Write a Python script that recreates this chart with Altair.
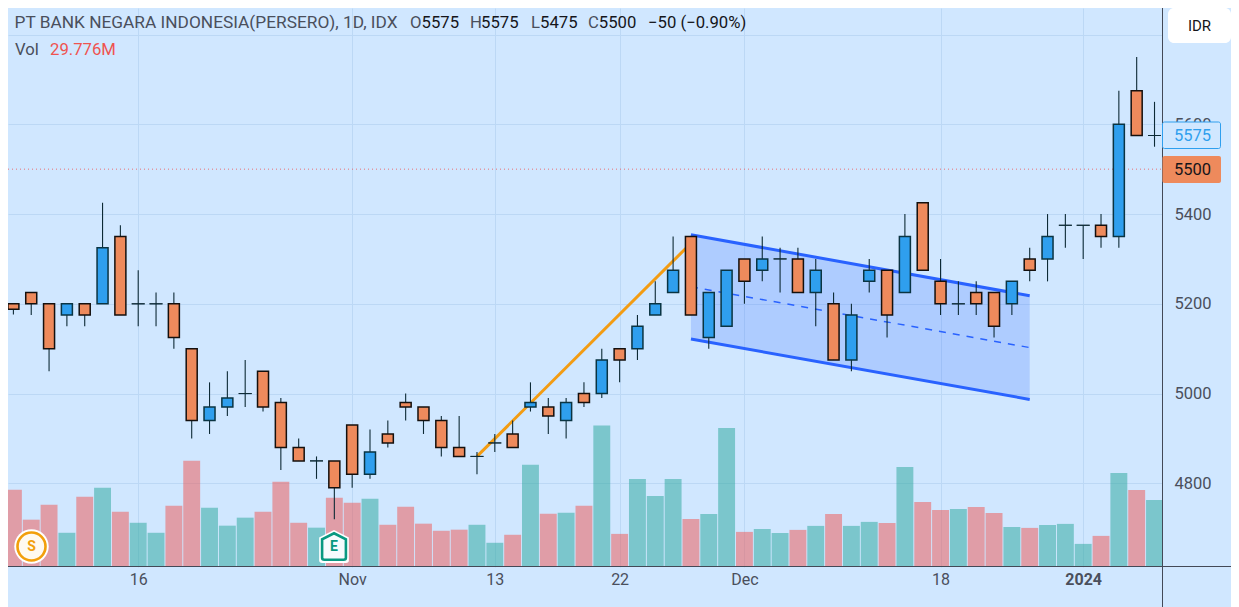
import altair as alt
import pandas as pd

# ---- values (IDR, one trading day per entry) ----
opens = [5200,5225,5200,5175,5200,5200,5350,5200,5200,5200,5100,4940,4970,5000,5050,4980,4880,4850,4850,4930,
         4820,4910,4980,4970,4940,4880,4860,4890,4910,4970,4970,4940,5000,5000,5100,5100,5175,5225,5350,5125,
         5150,5300,5275,5300,5300,5225,5200,5075,5250,5275,5225,5425,5250,5200,5225,5225,5200,5300,5300,5375,
         5375,5375,5350,5675,5575]
closes = [5188,5200,5100,5200,5175,5325,5175,5200,5200,5125,4940,4970,4990,5000,4970,4880,4850,4850,4790,4820,
          4870,4890,4970,4940,4880,4860,4860,4890,4880,4980,4950,4980,4980,5075,5075,5150,5200,5275,5175,5225,
          5275,5250,5300,5300,5225,5275,5075,5175,5275,5175,5350,5275,5200,5200,5200,5150,5250,5275,5350,5375,
          5375,5350,5600,5575,5575]
highs = [5200,5225,5200,5200,5200,5425,5375,5275,5225,5225,5100,5025,5050,5075,5050,4990,4900,4860,4850,4930,
         4920,4940,5000,4970,4950,4950,4870,4910,4940,5025,4990,4990,5025,5100,5100,5175,5250,5350,5350,5225,
         5275,5300,5350,5325,5325,5300,5225,5200,5300,5275,5400,5425,5300,5250,5250,5225,5250,5325,5400,5400,
         5375,5400,5675,5750,5650]
lows = [5176,5175,5050,5150,5150,5200,5175,5150,5150,5100,4900,4910,4950,4970,4960,4830,4850,4810,4720,4790,
        4810,4880,4940,4910,4860,4860,4820,4870,4880,4960,4910,4900,4970,4990,5025,5075,5175,5225,5175,5100,
        5150,5200,5250,5225,5225,5150,5075,5050,5225,5125,5225,5275,5175,5175,5175,5125,5175,5250,5250,5325,
        5300,5325,5325,5575,5550]
volumes = [34.8,21.3,28.0,15.4,31.6,35.7,24.9,19.9,15.4,27.6,47.8,26.7,18.6,22.2,24.9,38.4,19.9,17.7,31.2,28.9,
           30.7,19.0,27.1,19.5,16.3,16.8,19.0,10.9,14.5,46.0,24.0,24.4,27.6,63.7,14.9,39.6,32.0,39.6,21.6,23.9,
           62.6,15.8,17.1,15.3,16.7,18.5,23.9,18.5,20.3,19.8,45.0,29.3,25.7,26.1,27.0,24.3,18.0,17.6,18.9,19.4,
           10.4,14.0,42.3,34.7,30.2]

x_tick_days = [7, 19, 27, 34, 41, 52, 60]
x_tick_labels = ["16", "Nov", "13", "22", "Dec", "18", "2024"]
price_ticks = [4800, 5000, 5200, 5400, 5600, 5800]

trend_day = [26, 38]
trend_price = [4860, 5335]
chan_day = [38, 57]
chan_top = [5354, 5218]
chan_bottom = [5121.6, 4987]
chan_mid = [5238, 5102.5]

BG = "#d0e7ff"
GRID = "#bcd8f5"
UP = "#2f9fee"
DOWN = "#ee8a5c"
FONT = "Roboto"
TXT = "#4a4f5c"

df = pd.DataFrame({"day": range(len(opens)), "o": opens, "h": highs, "l": lows, "c": closes, "v": volumes})
body = df[df.o != df.c]
doji = df[df.o == df.c]
trend = pd.DataFrame({"day": trend_day, "p": trend_price})
chan = pd.DataFrame({"day": chan_day, "top": chan_top, "bottom": chan_bottom, "mid": chan_mid})

label_map = "{" + ",".join(f"{d}:'{t}'" for d, t in zip(x_tick_days, x_tick_labels)) + "}"
xdef = alt.X(
    "day:Q", title=None,
    scale=alt.Scale(domain=[-0.303, 64.42], nice=False, zero=False, padding=0),
    axis=alt.Axis(values=x_tick_days, labelExpr=f"{label_map}[datum.value]", grid=True, gridColor=GRID,
                  gridWidth=1, domain=False, ticks=False, labelFont=FONT, labelFontSize=16, labelColor=TXT,
                  labelPadding=12, labelBaseline="middle", labelOverlap=False, labelFlush=False,
                  labelFontWeight=alt.expr("datum.value==60?'bold':'normal'")),
)
price_scale = alt.Scale(domain=[4613.6, 5859.1], nice=False, zero=False, padding=0)


def py(field, axis=None):
    return alt.Y(field, title=None, scale=price_scale, axis=axis)


price_axis = alt.Axis(values=price_ticks, orient="right", grid=True, gridColor=GRID, gridWidth=1, domain=False,
                      ticks=False, labelFont=FONT, labelFontSize=16.5, labelColor=TXT, labelPadding=12,
                      labelOverlap=False, labelFlush=False,
                      labelExpr="datum.value==5800?'':format(datum.value,'d')")

base = alt.Chart(df)
volume = base.mark_bar(size=16.9, opacity=0.5, clip=True).encode(
    x=xdef,
    y=alt.Y("v:Q", title=None, scale=alt.Scale(domain=[0, 251.55], nice=False, zero=True, padding=0), axis=None),
    color=alt.condition("datum.c<datum.o", alt.value("#ef5350"), alt.value("#26a69a")),
)
band = alt.Chart(chan).mark_area(color="#2962ff", opacity=0.2).encode(x=xdef, y=py("top:Q"), y2="bottom:Q")
top_line = alt.Chart(chan).mark_line(color="#2962ff", strokeWidth=3).encode(x=xdef, y=py("top:Q"))
bottom_line = alt.Chart(chan).mark_line(color="#2962ff", strokeWidth=3).encode(x=xdef, y=py("bottom:Q"))
mid_line = alt.Chart(chan).mark_line(color="#2962ff", strokeWidth=1.5, strokeDash=[7, 7]).encode(x=xdef, y=py("mid:Q"))
trend_line = alt.Chart(trend).mark_line(color="#f39c12", strokeWidth=3).encode(x=xdef, y=py("p:Q"))
last_price = alt.Chart(df.tail(1)).mark_rule(color="#ef5350", strokeDash=[1, 3], strokeWidth=1, opacity=0.8).encode(
    x=alt.value(0), x2=alt.value(1154), y=alt.Y("lp:Q", title=None, scale=price_scale, axis=None)
).transform_calculate(lp="5500")
wicks = base.mark_rule(color="#0d2a35", strokeWidth=1.1).encode(x=xdef, y=py("l:Q", price_axis), y2="h:Q")
bodies = alt.Chart(body).mark_bar(size=11, strokeWidth=1.5).encode(
    x=xdef, y=py("o:Q"), y2="c:Q",
    color=alt.condition("datum.c<datum.o", alt.value(DOWN), alt.value(UP)),
    stroke=alt.condition("datum.c<datum.o", alt.value("#14100e"), alt.value("#0a3442")),
)
doji_marks = alt.Chart(doji).mark_bar(size=13, strokeWidth=1, stroke="#0d2a35").encode(x=xdef, y=py("o:Q"), y2="c:Q")

ONE = alt.Data(values=[{}])


def label(text, x, y, color=TXT, size=16.7, align="left", weight="normal"):
    return alt.Chart(ONE).mark_text(font=FONT, fontSize=size, align=align, baseline="middle",
                                    color=color, fontWeight=weight).encode(
        x=alt.value(x - 8), y=alt.value(y - 8), text=alt.value(text))


def box(x0, x1, y0, y1, fill, stroke=None, radius=2):
    kw = {"stroke": stroke, "strokeWidth": 1} if stroke else {}
    return alt.Chart(ONE).mark_rect(fill=fill, cornerRadius=radius, **kw).encode(
        x=alt.value(x0 - 8), x2=alt.value(x1 - 8), y=alt.value(y0 - 8), y2=alt.value(y1 - 8))


def rule(x0, x1, y0, y1):
    return alt.Chart(ONE).mark_rule(color="#434957", strokeWidth=1).encode(
        x=alt.value(x0 - 8), x2=alt.value(x1 - 8), y=alt.value(y0 - 8), y2=alt.value(y1 - 8))


def dot(x, y, size, fill, stroke=None, sw=0, shape="circle"):
    kw = {"stroke": stroke, "strokeWidth": sw} if stroke else {"strokeWidth": 0}
    return alt.Chart(ONE).mark_point(filled=False, fill=fill, size=size, shape=shape, opacity=1, **kw).encode(
        x=alt.value(x - 8), y=alt.value(y - 8))


HOUSE = "M0,-1 L0.9,-0.55 L0.9,0.85 Q0.9,1,0.72,1 L-0.72,1 Q-0.9,1,-0.9,0.85 L-0.9,-0.55 Z"

chart = alt.layer(
    volume, band, top_line, bottom_line, mid_line, trend_line, last_price, wicks, bodies, doji_marks,
    rule(8, 1231, 566.5, 566.5), rule(1162.5, 1162.5, 8, 607),
    box(1162.5, 1220.5, 122, 148.5, BG, "#2f9fee"), label("5575", 1174, 135.5, "#2f9fee", 16.5),
    box(1162.5, 1221, 156, 183, DOWN), label("5500", 1174, 169.5, "#15151a", 16.5),
    box(1168, 1231, 8, 43, "#ffffff", radius=6), label("IDR", 1199.5, 25.5, "#15151a", 15, "center"),
    label("PT BANK NEGARA INDONESIA(PERSERO), 1D, IDX", 14.5, 23, TXT, 17.3),
    label("O", 410, 23), label("5575", 421.5, 23, "#15151a"),
    label("H", 470, 23), label("5575", 481, 23, "#15151a"),
    label("L", 531, 23), label("5475", 540, 23, "#15151a"),
    label("C", 588, 23), label("5500", 598.8, 23, "#15151a"),
    label("\u221250 (\u22120.90%)", 648, 23, "#15151a"),
    label("Vol", 15, 50), label("29.776M", 50, 50, "#ef5350"),
    dot(31.5, 546.5, 1190, "#ffffff"), dot(31.5, 546.5, 784, "#fffaf0", "#f29f0b", 2.6),
    label("S", 31.5, 547, "#f29f0b", 14, "center", "bold"),
    dot(334, 546.5, 1089, "#ffffff", shape=HOUSE), dot(334, 546.5, 700, "#f6fbfd", "#089981", 2.6, shape=HOUSE),
    label("E", 334, 547, "#089981", 14, "center", "bold"),
).resolve_scale(y="independent").properties(
    width=1154, height=559,
    padding={"left": 0, "top": 0, "right": 69, "bottom": 40},
    autosize=alt.AutoSizeParams(type="none"),
    background=BG,
).configure_view(stroke=None)

chart.save("out.html", embed_options={"renderer": "svg", "actions": False})
